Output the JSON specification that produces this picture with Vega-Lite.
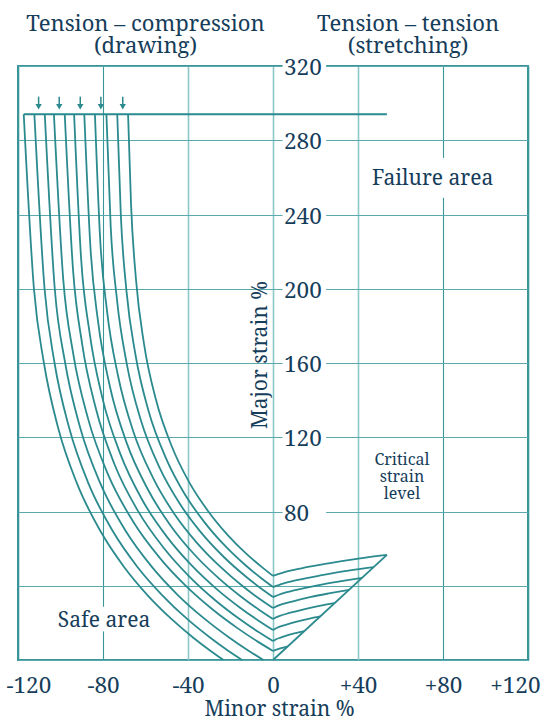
{
 "$schema": "https://vega.github.io/schema/vega-lite/v6.json",
 "width": 510,
 "height": 594,
 "autosize": {"type": "none"},
 "padding": {"left": 18, "top": 66, "right": 13, "bottom": 60},
 "background": "white",
 "config": {"view": {"stroke": "#3b9699", "strokeWidth": 2}, "font": "Noto Serif"},
 "datasets": {
  "curves": [
   {"c":"L0","x":0,"y":45.3},{"c":"L0","x":-5.5,"y":50.3},{"c":"L0","x":-12.6,"y":57.3},{"c":"L0","x":-21.3,"y":67.3},{"c":"L0","x":-30.6,"y":80.3},{"c":"L0","x":-39.2,"y":95.3},{"c":"L0","x":-47.7,"y":115.3},{"c":"L0","x":-55.1,"y":140.3},{"c":"L0","x":-60.7,"y":170.3},{"c":"L0","x":-64.5,"y":205.3},{"c":"L0","x":-66.8,"y":245.3},{"c":"L0","x":-68.2,"y":294},
   {"c":"L1","x":0,"y":39.3},{"c":"L1","x":-5.8,"y":44.3},{"c":"L1","x":-13.2,"y":51.3},{"c":"L1","x":-22.4,"y":61.3},{"c":"L1","x":-32.3,"y":74.3},{"c":"L1","x":-41.5,"y":89.3},{"c":"L1","x":-50.6,"y":109.3},{"c":"L1","x":-58.6,"y":134.3},{"c":"L1","x":-64.7,"y":164.3},{"c":"L1","x":-69.0,"y":199.3},{"c":"L1","x":-71.6,"y":239.3},{"c":"L1","x":-73.3,"y":294},
   {"c":"L2","x":0,"y":33.9},{"c":"L2","x":-6.1,"y":38.9},{"c":"L2","x":-13.8,"y":45.9},{"c":"L2","x":-23.5,"y":55.9},{"c":"L2","x":-34.0,"y":68.9},{"c":"L2","x":-43.7,"y":83.9},{"c":"L2","x":-53.5,"y":103.9},{"c":"L2","x":-62.1,"y":128.9},{"c":"L2","x":-68.7,"y":158.9},{"c":"L2","x":-73.4,"y":193.9},{"c":"L2","x":-76.4,"y":233.9},{"c":"L2","x":-78.4,"y":294},
   {"c":"L3","x":0,"y":28},{"c":"L3","x":-6.4,"y":33},{"c":"L3","x":-14.5,"y":40},{"c":"L3","x":-24.6,"y":50},{"c":"L3","x":-35.7,"y":63},{"c":"L3","x":-46.0,"y":78},{"c":"L3","x":-56.4,"y":98},{"c":"L3","x":-65.7,"y":123},{"c":"L3","x":-72.9,"y":153},{"c":"L3","x":-78.1,"y":188},{"c":"L3","x":-81.4,"y":228},{"c":"L3","x":-83.8,"y":294},
   {"c":"L4","x":0,"y":22.1},{"c":"L4","x":-6.6,"y":27.1},{"c":"L4","x":-15.0,"y":34.1},{"c":"L4","x":-25.6,"y":44.1},{"c":"L4","x":-37.2,"y":57.1},{"c":"L4","x":-48.0,"y":72.1},{"c":"L4","x":-59.0,"y":92.1},{"c":"L4","x":-68.9,"y":117.1},{"c":"L4","x":-76.7,"y":147.1},{"c":"L4","x":-82.3,"y":182.1},{"c":"L4","x":-85.9,"y":222.1},{"c":"L4","x":-88.8,"y":294},
   {"c":"L5","x":0,"y":16.2},{"c":"L5","x":-6.8,"y":21.2},{"c":"L5","x":-15.5,"y":28.2},{"c":"L5","x":-26.5,"y":38.2},{"c":"L5","x":-38.5,"y":51.2},{"c":"L5","x":-49.8,"y":66.2},{"c":"L5","x":-61.5,"y":86.2},{"c":"L5","x":-71.9,"y":111.2},{"c":"L5","x":-80.3,"y":141.2},{"c":"L5","x":-86.3,"y":176.2},{"c":"L5","x":-90.3,"y":216.2},{"c":"L5","x":-93.6,"y":294},
   {"c":"L6","x":0,"y":10.2},{"c":"L6","x":-7.0,"y":15.2},{"c":"L6","x":-15.9,"y":22.2},{"c":"L6","x":-27.2,"y":32.2},{"c":"L6","x":-39.6,"y":45.2},{"c":"L6","x":-51.3,"y":60.2},{"c":"L6","x":-63.5,"y":80.2},{"c":"L6","x":-74.5,"y":105.2},{"c":"L6","x":-83.3,"y":135.2},{"c":"L6","x":-89.8,"y":170.2},{"c":"L6","x":-94.1,"y":210.2},{"c":"L6","x":-98.0,"y":294},
   {"c":"L7","x":0,"y":4.9},{"c":"L7","x":-7.2,"y":9.9},{"c":"L7","x":-16.4,"y":16.9},{"c":"L7","x":-28.1,"y":26.9},{"c":"L7","x":-41.0,"y":39.9},{"c":"L7","x":-53.2,"y":54.9},{"c":"L7","x":-66.0,"y":74.9},{"c":"L7","x":-77.6,"y":99.9},{"c":"L7","x":-87.0,"y":129.9},{"c":"L7","x":-94.0,"y":164.9},{"c":"L7","x":-98.7,"y":204.9},{"c":"L7","x":-103.1,"y":294},
   {"c":"L8","x":-4.5,"y":0},{"c":"L8","x":-11.5,"y":5},{"c":"L8","x":-20.5,"y":12},{"c":"L8","x":-32.0,"y":22},{"c":"L8","x":-44.8,"y":35},{"c":"L8","x":-56.9,"y":50},{"c":"L8","x":-69.6,"y":70},{"c":"L8","x":-81.2,"y":95},{"c":"L8","x":-90.7,"y":125},{"c":"L8","x":-97.8,"y":160},{"c":"L8","x":-102.7,"y":200},{"c":"L8","x":-107.4,"y":294},
   {"c":"L9","x":-14.5,"y":0},{"c":"L9","x":-21.1,"y":5},{"c":"L9","x":-29.5,"y":12},{"c":"L9","x":-40.3,"y":22},{"c":"L9","x":-52.2,"y":35},{"c":"L9","x":-63.7,"y":50},{"c":"L9","x":-75.7,"y":70},{"c":"L9","x":-86.8,"y":95},{"c":"L9","x":-95.9,"y":125},{"c":"L9","x":-102.8,"y":160},{"c":"L9","x":-107.5,"y":200},{"c":"L9","x":-112.3,"y":294},
   {"c":"L10","x":-23.3,"y":0},{"c":"L10","x":-29.5,"y":5},{"c":"L10","x":-37.5,"y":12},{"c":"L10","x":-47.7,"y":22},{"c":"L10","x":-59.1,"y":35},{"c":"L10","x":-70.0,"y":50},{"c":"L10","x":-81.5,"y":70},{"c":"L10","x":-92.2,"y":95},{"c":"L10","x":-101.1,"y":125},{"c":"L10","x":-107.8,"y":160},{"c":"L10","x":-112.5,"y":200},{"c":"L10","x":-117.3,"y":294},
   {"c":"R0","x":0,"y":45.3},{"c":"R0","x":5.4,"y":47.3},{"c":"R0","x":13.4,"y":49.4},{"c":"R0","x":26.8,"y":52.2},{"c":"R0","x":40.2,"y":54.6},{"c":"R0","x":53.6,"y":56.6},
   {"c":"R1","x":0,"y":39.3},{"c":"R1","x":4.7,"y":41.2},{"c":"R1","x":11.8,"y":43.2},{"c":"R1","x":23.7,"y":45.8},{"c":"R1","x":35.5,"y":48.1},{"c":"R1","x":47.3,"y":50.0},
   {"c":"R2","x":0,"y":33.9},{"c":"R2","x":4.2,"y":35.8},{"c":"R2","x":10.5,"y":37.6},{"c":"R2","x":21.0,"y":40.2},{"c":"R2","x":31.4,"y":42.3},{"c":"R2","x":41.9,"y":44.2},
   {"c":"R3","x":0,"y":28.0},{"c":"R3","x":3.6,"y":29.8},{"c":"R3","x":9.0,"y":31.5},{"c":"R3","x":17.9,"y":34.0},{"c":"R3","x":26.9,"y":36.0},{"c":"R3","x":35.8,"y":37.8},
   {"c":"R4","x":0,"y":22.1},{"c":"R4","x":2.9,"y":23.6},{"c":"R4","x":7.3,"y":25.2},{"c":"R4","x":14.5,"y":27.3},{"c":"R4","x":21.8,"y":29.1},{"c":"R4","x":29.0,"y":30.6},
   {"c":"R5","x":0,"y":16.2},{"c":"R5","x":2.2,"y":17.5},{"c":"R5","x":5.6,"y":18.8},{"c":"R5","x":11.2,"y":20.7},{"c":"R5","x":16.7,"y":22.2},{"c":"R5","x":22.3,"y":23.5},
   {"c":"R6","x":0,"y":10.2},{"c":"R6","x":1.5,"y":11.2},{"c":"R6","x":3.7,"y":12.1},{"c":"R6","x":7.4,"y":13.5},{"c":"R6","x":11.1,"y":14.6},{"c":"R6","x":14.8,"y":15.6},
   {"c":"R7","x":0,"y":4.9},{"c":"R7","x":3.4,"y":6.3},{"c":"R7","x":6.8,"y":7.2},
   {"c":"D","x":0,"y":0},{"c":"D","x":53.6,"y":56.6},
   {"c":"T","x":-117.3,"y":294},{"c":"T","x":53.6,"y":294}
  ],
  "arrows": [
   {"x":-110.3,"y":303.5,"y2":299},{"x":-100.6,"y":303.5,"y2":299},{"x":-90.7,"y":303.5,"y2":299},{"x":-81.0,"y":303.5,"y2":299},{"x":-70.7,"y":303.5,"y2":299}
  ],
  "heads": [
   {"x":-110.3,"y":298},{"x":-100.6,"y":298},{"x":-90.7,"y":298},{"x":-81.0,"y":298},{"x":-70.7,"y":298}
  ],
  "bg": [
   {"x":4.5,"x2":25,"y":76.5,"y2":83.5},{"x":4.5,"x2":25,"y":116.5,"y2":123.5},{"x":4.5,"x2":25,"y":156.5,"y2":163.5},{"x":4.5,"x2":25,"y":196.5,"y2":203.5},{"x":4.5,"x2":25,"y":236.5,"y2":243.5},{"x":4.5,"x2":25,"y":276.5,"y2":283.5},{"x":4.5,"x2":25,"y":316.5,"y2":323.5},
   {"x":76,"x2":84,"y":249,"y2":270.5},
   {"x":-84,"x2":-76,"y":15.4,"y2":28.7}
  ],
  "ylabels": [
   {"x":0,"y":80,"t":"80"},{"x":0,"y":120,"t":"120"},{"x":0,"y":160,"t":"160"},{"x":0,"y":200,"t":"200"},{"x":0,"y":240,"t":"240"},{"x":0,"y":280,"t":"280"},{"x":0,"y":320,"t":"320"}
  ],
  "areas": [
   {"x":75.1,"y":255.9,"t":"Failure area"},{"x":-79.5,"y":17.9,"t":"Safe area"}
  ],
  "critical": [
   {"x":60.7,"y":104.8,"t":"Critical\nstrain\nlevel"}
  ],
  "titles": [
   {"x":-60,"y":339.1,"t":"Tension – compression\n(drawing)"},{"x":63.6,"y":339.1,"t":"Tension – tension\n(stretching)"}
  ],
  "ytitle": [
   {"x":-2.8,"y":164.3,"t":"Major strain %"}
  ]
 },
 "encoding": {
  "x": {"field": "x", "type": "quantitative",
   "scale": {"domain": [-120, 120], "nice": false, "zero": false},
   "axis": {"values": [-120, -80, -40, 0, 40, 80, 120],
    "labelExpr": "datum.value > 0 ? '+' + datum.value : '' + datum.value",
    "domain": false, "ticks": false, "labelPadding": 14,
    "labelFont": "Noto Serif", "labelFontSize": 22.5, "labelColor": "#163d5a",
    "labelFlush": true, "labelFlushOffset": 12,
    "grid": true,
    "gridColor": {"condition": {"test": "datum.value === -80 || datum.value === 80 || datum.value === -120 || datum.value === 120", "value": "#3b9699"}, "value": "#8cc6c7"},
    "gridWidth": {"condition": {"test": "datum.value === -80 || datum.value === 80", "value": 1.1}, "value": 1.6},
    "gridOpacity": 1,
    "title": "Minor strain %", "titleFont": "Noto Serif", "titleFontSize": 21, "titleFontWeight": "normal", "titleColor": "#163d5a",
    "titleX": 261, "titleY": 55, "titleBaseline": "alphabetic", "titleAlign": "center"}},
  "y": {"field": "y", "type": "quantitative",
   "scale": {"domain": [0, 320], "nice": false, "zero": false},
   "axis": {"values": [0, 40, 80, 120, 160, 200, 240, 280, 320], "labels": false, "ticks": false, "domain": false, "title": null,
    "grid": true, "gridColor": "#5aaaad", "gridWidth": 1.2, "gridOpacity": 1}}
 },
 "layer": [
  {"data": {"name": "curves"}, "mark": {"type": "line", "interpolate": "monotone", "color": "#2b8a8e", "strokeWidth": 1.8}, "encoding": {"detail": {"field": "c", "type": "nominal"}}},
  {"data": {"name": "arrows"}, "mark": {"type": "rule", "color": "#2b8a8e", "strokeWidth": 1.5}, "encoding": {"y2": {"field": "y2"}}},
  {"data": {"name": "heads"}, "mark": {"type": "point", "shape": "triangle-down", "filled": true, "size": 40, "color": "#2b8a8e", "opacity": 1}, "encoding": {}},
  {"data": {"name": "bg"}, "mark": {"type": "rect", "color": "white"}, "encoding": {"x2": {"field": "x2"}, "y2": {"field": "y2"}}},
  {"data": {"name": "ylabels"}, "mark": {"type": "text", "align": "left", "baseline": "alphabetic", "dx": 11, "dy": 9, "font": "Noto Serif", "fontSize": 22.5, "color": "#163d5a"}, "encoding": {"text": {"field": "t", "type": "nominal"}}},
  {"data": {"name": "areas"}, "mark": {"type": "text", "align": "center", "baseline": "alphabetic", "font": "Noto Serif", "fontSize": 21, "color": "#163d5a"}, "encoding": {"text": {"field": "t", "type": "nominal"}}},
  {"data": {"name": "critical"}, "mark": {"type": "text", "align": "center", "baseline": "alphabetic", "lineBreak": "\n", "lineHeight": 17, "font": "Noto Serif", "fontSize": 16, "color": "#163d5a"}, "encoding": {"text": {"field": "t", "type": "nominal"}}},
  {"data": {"name": "titles"}, "mark": {"type": "text", "align": "center", "baseline": "alphabetic", "lineBreak": "\n", "lineHeight": 22.5, "font": "Noto Serif", "fontSize": 22, "color": "#163d5a"}, "encoding": {"text": {"field": "t", "type": "nominal"}}},
  {"data": {"name": "ytitle"}, "mark": {"type": "text", "align": "center", "baseline": "alphabetic", "angle": 270, "font": "Noto Serif", "fontSize": 21, "color": "#163d5a"}, "encoding": {"text": {"field": "t", "type": "nominal"}}}
 ]
}
